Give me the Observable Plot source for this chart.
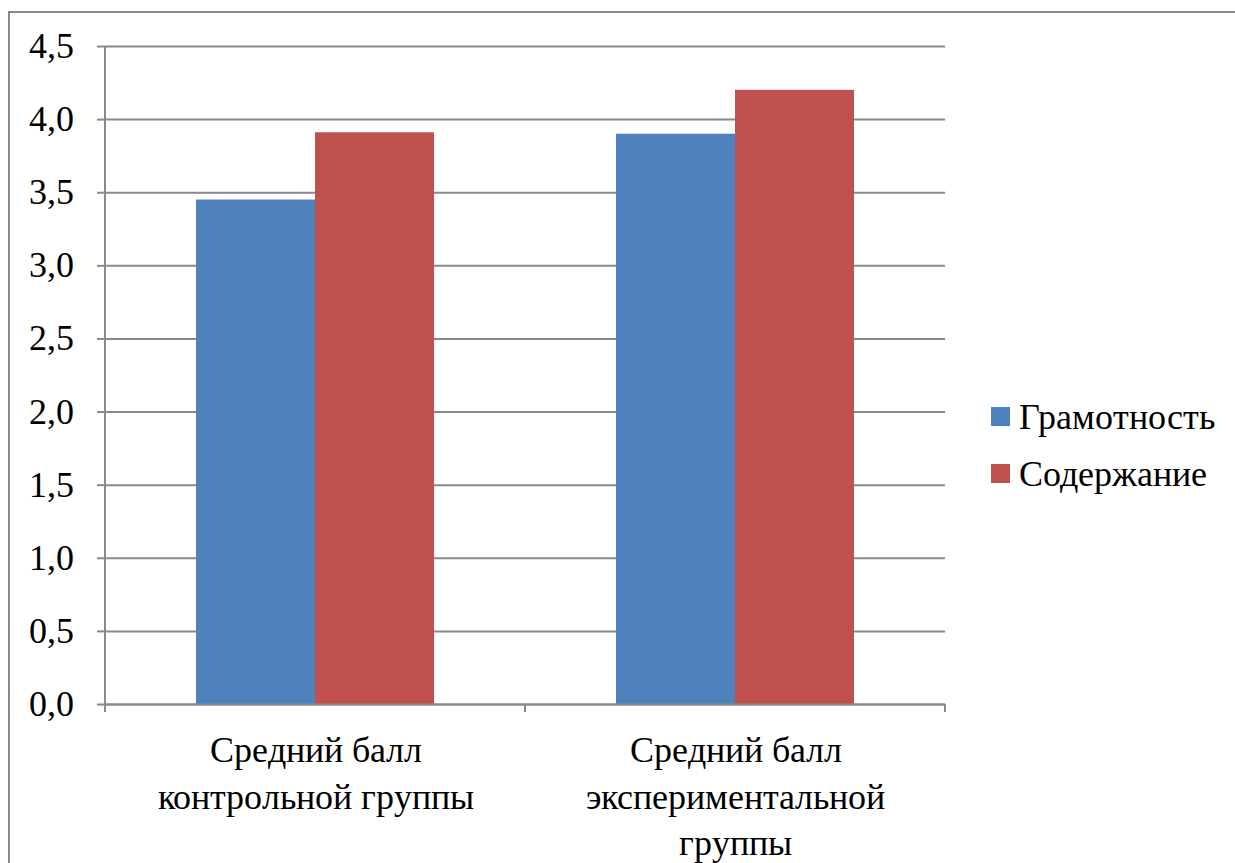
<!DOCTYPE html>
<html>
<head>
<meta charset="utf-8">
<script src="https://cdn.jsdelivr.net/npm/d3@7"></script>
<script src="https://cdn.jsdelivr.net/npm/@observablehq/plot@0.6"></script>
<style>
  @font-face { font-family: "ChartSerif"; src: local("Liberation Serif"), local("LiberationSerif"), local("LiberationSerif-Regular"), local("Tinos"), local("Noto Serif"), local("DejaVu Serif"); }
  html, body { margin: 0; padding: 0; background: #fff; overflow: hidden; }
  #wrap { position: relative; width: 1235px; height: 863px; }
  #border { position: absolute; left: 8px; top: 11px; width: 1300px; height: 900px;
            border: 2px solid #898989; box-sizing: border-box; pointer-events: none; }
  #legend { position: absolute; left: 991px; top: 388px; color: #000;
            font-family: "ChartSerif", "Liberation Serif", "Noto Serif", "DejaVu Serif", serif; font-size: 36px; }
  .item { display: flex; align-items: center; height: 57px; }
  .sw { width: 19px; height: 19px; margin-right: 9px; }
  svg text { font-family: "ChartSerif", "Liberation Serif", "Noto Serif", "DejaVu Serif", serif !important; }
</style>
</head>
<body>
<div id="wrap"><div id="chart"></div><div id="legend"></div><div id="border"></div></div>
<script>
const categories = ["Средний балл\nконтрольной группы", "Средний балл\nэкспериментальной\nгруппы"];
const series = ["Грамотность", "Содержание"];
const gramotnost = [3.45, 3.9];
const soderzhanie = [3.91, 4.2];
const yTicks = [0, 0.5, 1, 1.5, 2, 2.5, 3, 3.5, 4, 4.5];
const colors = ["#4F81BD", "#C0504D"];

const data = categories.flatMap((c, i) => [
  {cat: c, s: series[0], v: gramotnost[i]},
  {cat: c, s: series[1], v: soderzhanie[i]}
]);

const gray = "#898989";
const font = "ChartSerif, 'Liberation Serif', 'Noto Serif', 'DejaVu Serif', serif";

const chart = Plot.plot({
  width: 1235,
  height: 863,
  marginLeft: 104,
  marginRight: 290,
  marginTop: 46,
  marginBottom: 159,
  style: {fontFamily: font, fontSize: "36px", background: "transparent", color: "#000"},
  fx: {domain: categories, padding: 0, label: null},
  x: {domain: series, paddingInner: 0, paddingOuter: 0.752, axis: null},
  y: {domain: [0, 4.5], label: null},
  color: {domain: series, range: colors},
  marks: [
    Plot.gridY(yTicks, {stroke: gray, strokeOpacity: 1, strokeWidth: 2}),
    Plot.barY(data, {fx: "cat", x: "s", y: "v", fill: "s"}),
    Plot.ruleY([0], {stroke: gray, strokeWidth: 2}),
    Plot.axisY(yTicks, {
      tickFormat: d => d.toFixed(1).replace(".", ","),
      tickSize: 8, tickPadding: 24, stroke: gray, strokeWidth: 2, strokeOpacity: 1,
      fontSize: 36, fontFamily: font, label: null
    }),
    Plot.axisFx({anchor: "bottom", tickSize: 0, tickPadding: 24, lineHeight: 1.3, fontSize: 36, fontFamily: font, label: null}),
    Plot.frame({facet: "super", render: (index, scales, values, dims) => {
      const ns = "http://www.w3.org/2000/svg";
      const g = document.createElementNS(ns, "g");
      const base = dims.height - dims.marginBottom;
      const left = dims.marginLeft;
      const right = dims.width - dims.marginRight;
      const add = (x1, y1, x2, y2) => {
        const l = document.createElementNS(ns, "line");
        l.setAttribute("x1", x1); l.setAttribute("y1", y1);
        l.setAttribute("x2", x2); l.setAttribute("y2", y2);
        l.setAttribute("stroke", gray); l.setAttribute("stroke-width", 2);
        g.appendChild(l);
      };
      add(left, dims.marginTop, left, base + 8);
      const step = (right - left) / categories.length;
      for (let i = 0; i <= categories.length; i++) add(left + i * step, base, left + i * step, base + 8);
      return g;
    }})
  ]
});
document.getElementById("chart").appendChild(chart);

const legend = document.getElementById("legend");
series.forEach((s, i) => {
  const it = document.createElement("div");
  it.className = "item";
  const sw = document.createElement("div");
  sw.className = "sw";
  sw.style.background = colors[i];
  const t = document.createElement("span");
  t.textContent = s;
  it.appendChild(sw); it.appendChild(t);
  legend.appendChild(it);
});
</script>
</body>
</html>
